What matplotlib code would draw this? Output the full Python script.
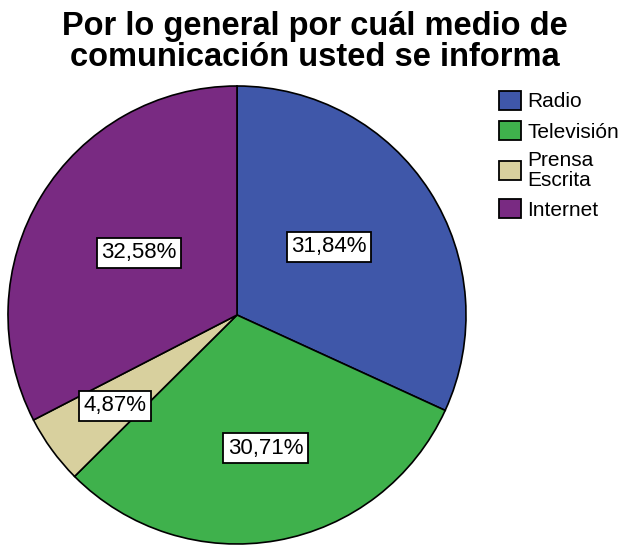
import numpy as np
import matplotlib.pyplot as plt
from matplotlib.patches import Patch

plt.rcParams['font.family'] = ['Liberation Sans', 'DejaVu Sans']

categories = ['Radio', 'Televisión', 'Prensa Escrita', 'Internet']
legend_labels = ['Radio', 'Televisión', 'Prensa\nEscrita', 'Internet']
percentages = [31.84, 30.71, 4.87, 32.58]
colors = ['#3f57a9', '#3fb14c', '#d8d09e', '#792a82']

# where each value box sits: fraction of radius and small turn off the mid-angle
label_radius = [0.50, 0.595, 0.665, 0.506]
label_turn = [4.0, 2.0, 0.5, -1.0]

fig = plt.figure(figsize=(6.3, 5.46), dpi=100)
ax = fig.add_axes([(237 - 229) / 630, (546 - 315 - 229) / 546, 458 / 630, 458 / 546])

wedges, _ = ax.pie(percentages, colors=colors, startangle=90, counterclock=False,
                   radius=1.0, wedgeprops=dict(edgecolor='black', linewidth=1.2))

for w, pct, r, t in zip(wedges, percentages, label_radius, label_turn):
    ang = np.deg2rad((w.theta1 + w.theta2) / 2 + t)
    txt = f'{pct:.2f}%'.replace('.', ',')
    ax.text(r * np.cos(ang), r * np.sin(ang), txt, ha='center', va='center', fontsize=16,
            bbox=dict(boxstyle='square,pad=0.2', fc='white', ec='black', lw=1.3))

ax.set_xlim(-1.0, 1.0)
ax.set_ylim(-1.0, 1.0)
ax.set_aspect('equal')
ax.axis('off')

fig.text(0.5, 0.923, 'Por lo general por cuál medio de\ncomunicación usted se informa',
         ha='center', va='center', fontsize=23.5, fontweight='bold', linespacing=0.97)

handles = [Patch(facecolor=c, edgecolor='black', linewidth=1.3) for c in colors]
leg = fig.legend(handles, legend_labels, loc='upper left', bbox_to_anchor=(0.792, 0.834),
                 frameon=False, fontsize=15, handlelength=1.05, handleheight=1.05,
                 handletextpad=0.3, labelspacing=0.45, borderaxespad=0, borderpad=0)
for t in leg.get_texts():
    t.set_linespacing(1.05)

fig.savefig('out.png', dpi=100)
